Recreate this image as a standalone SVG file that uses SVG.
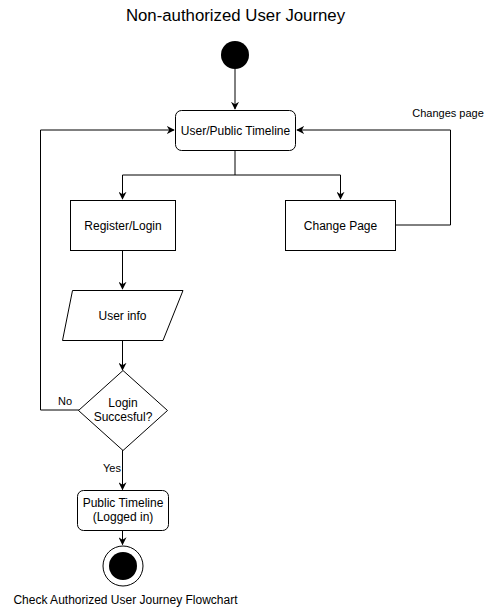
<svg xmlns="http://www.w3.org/2000/svg" width="485" height="615" viewBox="0 0 485 615">
<style>
text{font-family:"Liberation Sans",Arial,sans-serif;fill:#000}
.node{fill:#fff;stroke:#000;stroke-width:1}
.t12{font-size:12px;text-anchor:middle}
.t11{font-size:11px}
.edge{fill:none;stroke:#000;stroke-width:1}
</style>
<defs>
<marker id="arr" viewBox="0 0 10 10" refX="9" refY="5" markerWidth="8" markerHeight="8" markerUnits="userSpaceOnUse" orient="auto">
<path d="M0,0 L10,5 L0,10 L3,5 Z" fill="#000"/>
</marker>
</defs>
<rect width="485" height="615" fill="#fff"/>
<text x="235.5" y="21" style="font-size:16.8px;text-anchor:middle">Non-authorized User Journey</text>
<g id="edges">
<path class="edge" d="M235,69 V109" marker-end="url(#arr)"/>
<path class="edge" d="M235,150 V175 H122.5 V199" marker-end="url(#arr)"/>
<path class="edge" d="M235,175 H340.5 V199" marker-end="url(#arr)"/>
<path class="edge" d="M395.5,225 H450.5 V130 H297" marker-end="url(#arr)"/>
<path class="edge" d="M122.5,250 V289" marker-end="url(#arr)"/>
<path class="edge" d="M122.5,340 V370" marker-end="url(#arr)"/>
<path class="edge" d="M79,410 H40.5 V130 H174" marker-end="url(#arr)"/>
<path class="edge" d="M122.5,450 V489.5" marker-end="url(#arr)"/>
<path class="edge" d="M122.5,530.5 V544.5" marker-end="url(#arr)"/>
<text class="t11" x="448" y="117" text-anchor="middle">Changes page</text>
<text class="t11" x="65" y="405" text-anchor="middle">No</text>
<text class="t11" x="112" y="472" text-anchor="middle">Yes</text>
</g>
<g id="start"><circle cx="235" cy="55" r="14" fill="#000"/></g>
<g id="timeline"><rect class="node" x="175.5" y="110.5" width="120" height="40" rx="6"/><text class="t12" x="235.5" y="134.5">User/Public Timeline</text></g>
<g id="register"><rect class="node" x="70.5" y="200.5" width="105" height="50"/><text class="t12" x="123" y="229.5">Register/Login</text></g>
<g id="changepage"><rect class="node" x="285.5" y="200.5" width="110" height="50"/><text class="t12" x="340.5" y="229.5">Change Page</text></g>
<g id="userinfo"><path class="node" d="M72.5,290.5 H183 L163,340.5 H62.5 Z"/><text class="t12" x="122.5" y="319.5">User info</text></g>
<g id="decision"><path class="node" d="M123,370.5 L167.5,410.5 L123,450.5 L78.5,410.5 Z"/><text class="t12" x="123" y="407">Login</text><text class="t12" x="123" y="421">Succesful?</text></g>
<g id="logged"><rect class="node" x="77.5" y="490.5" width="91" height="40" rx="6"/><text class="t12" x="123" y="506.5">Public Timeline</text><text class="t12" x="123" y="521">(Logged in)</text></g>
<g id="end"><circle cx="123" cy="566" r="20" fill="#fff" stroke="#000"/><circle cx="123" cy="566" r="14" fill="#000"/></g>
<text x="125.5" y="604" style="font-size:12px;text-anchor:middle">Check Authorized User Journey Flowchart</text>
</svg>
